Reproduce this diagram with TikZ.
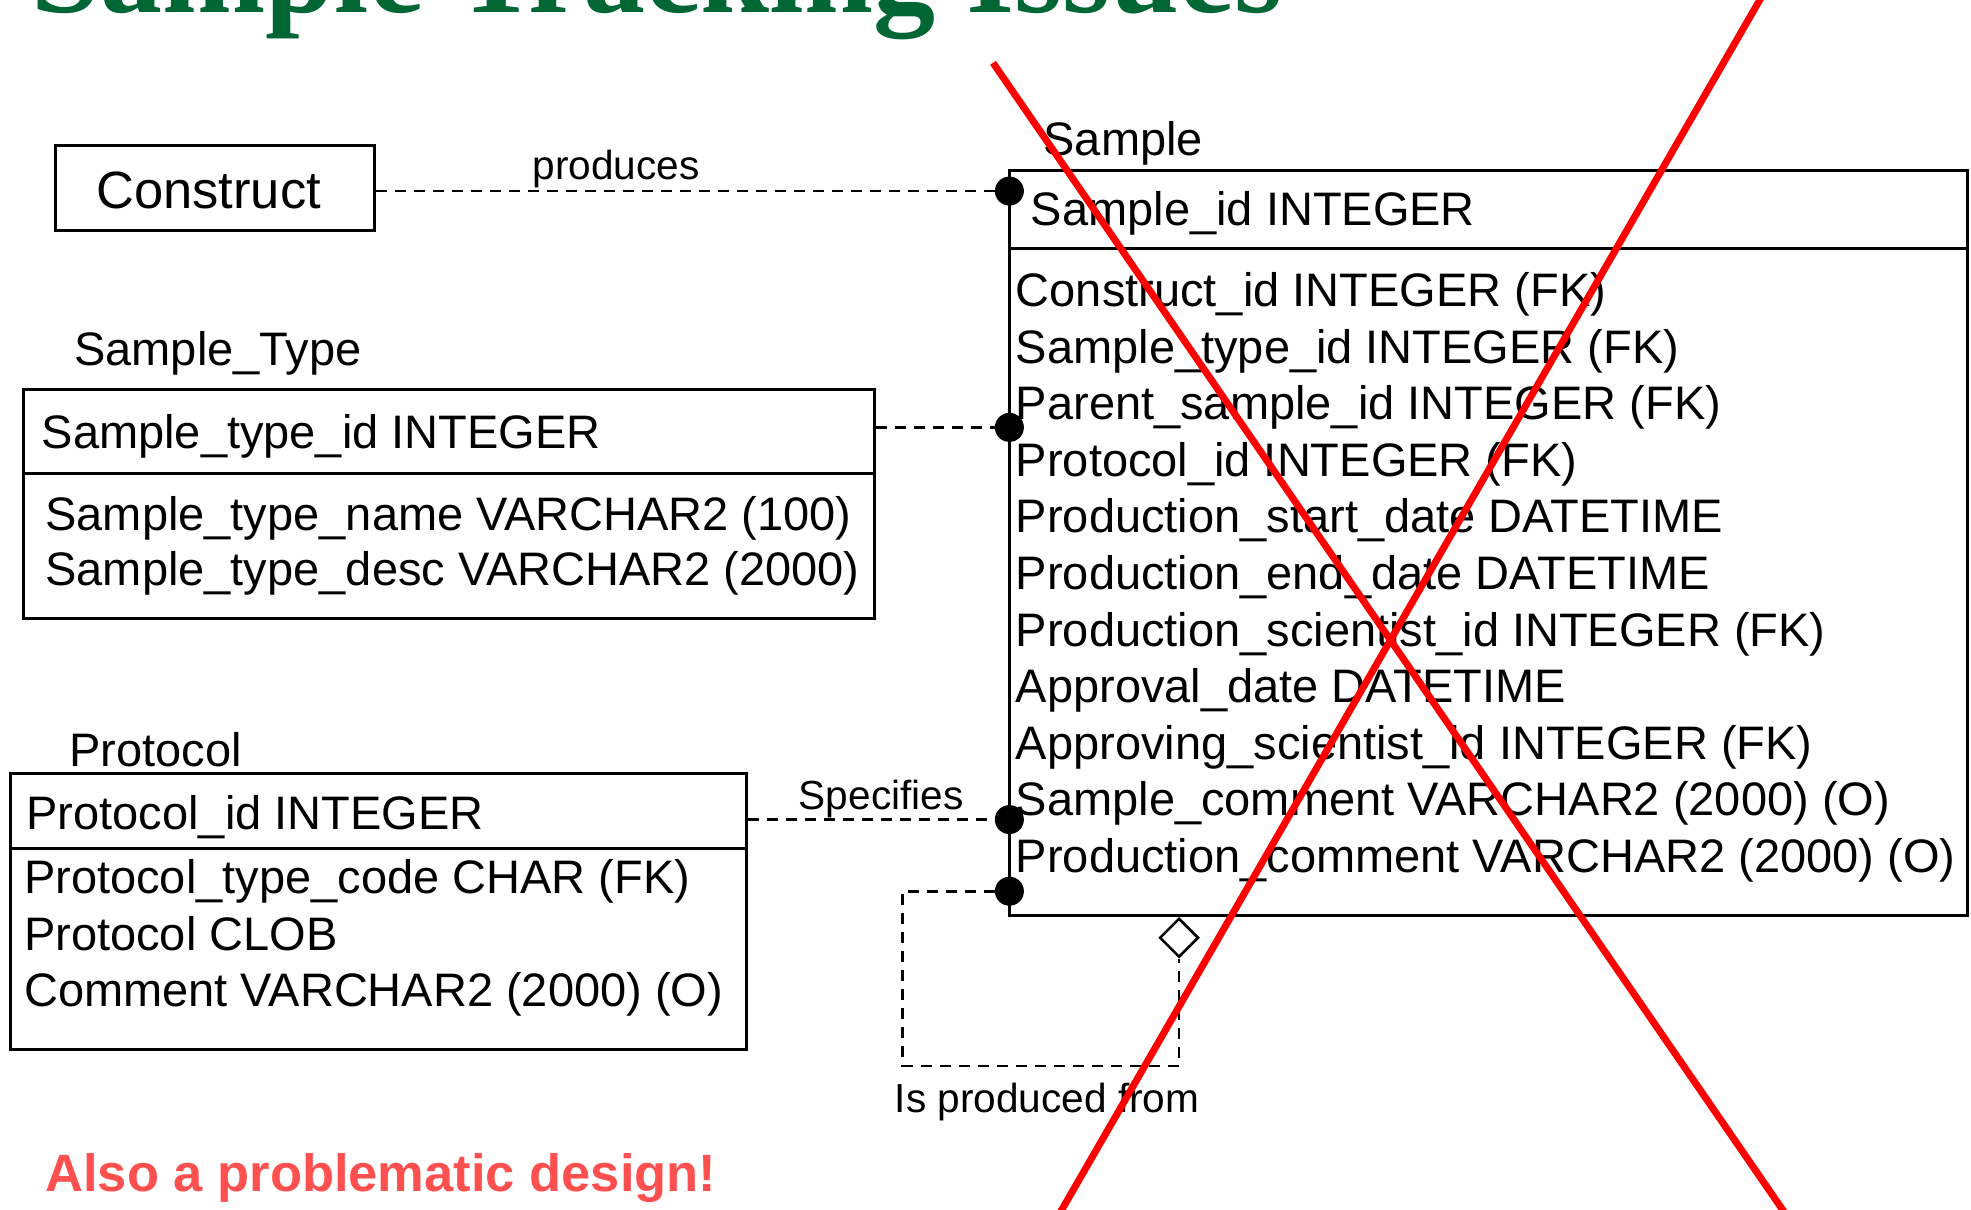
\documentclass[tikz,border=0pt]{standalone}
\usepackage{fontspec}
\setmainfont{Liberation Sans}
\newfontfamily\titlefont{Liberation Serif}
\usetikzlibrary{shapes.geometric,fit}
\definecolor{titlegreen}{RGB}{0,102,51}
\definecolor{notered}{RGB}{255,80,80}
\begin{document}
\begin{tikzpicture}[x=1.257pt,y=-1.257pt,
  ent/.style={draw, line width=3pt, inner sep=0pt},
  divider/.style={line width=3pt},
  conn/.style={line width=2.7pt, dash pattern=on 11pt off 8pt},
  dot/.style={circle, fill, inner sep=0pt, minimum size=29pt},
  attr/.style={anchor=base west, inner sep=0pt, font=\fontsize{47}{50}\selectfont},
  lbl/.style={anchor=base, inner sep=0pt, font=\fontsize{40.6}{44}\selectfont},
  xline/.style={draw=red, line width=7pt},
  relbox/.style={diamond, draw, line width=2.6pt, fill=white, inner sep=0pt, minimum width=39pt, minimum height=39pt}
]
\useasboundingbox (0,0) rectangle (1568,962);
\clip (0,0) rectangle (1568,962);

% title (cut at the top)
\node[anchor=base west, inner sep=0pt, text=titlegreen,
      font=\titlefont\bfseries\fontsize{124}{130}\selectfont] (title) at (25,10) {Sample Tracking Issues};

% Construct
\node[ent, fit={(44,116) (298,183)}] (construct) {};
\node[inner sep=0pt, anchor=base, font=\fontsize{52.5}{56}\selectfont] (constructtxt) at (166,166) {Construct};

% Sample entity
\node[attr] (samplename) at (830,124) {Sample};
\node[ent, fit={(803,136) (1565,728)}] (sample) {};
\draw[divider] (803,198) -- (1565,198);
\node[attr] (spk) at (820,179) {Sample\_id INTEGER};
\node[attr] (sa1) at (808,244) {Construct\_id INTEGER (FK)};
\node[attr] (sa2) at (808,289) {Sample\_type\_id INTEGER (FK)};
\node[attr] (sa3) at (808,334) {Parent\_sample\_id INTEGER (FK)};
\node[attr] (sa4) at (808,379) {Protocol\_id INTEGER (FK)};
\node[attr] (sa5) at (808,424) {Production\_start\_date DATETIME};
\node[attr] (sa6) at (808,469) {Production\_end\_date DATETIME};
\node[attr] (sa7) at (808,514) {Production\_scientist\_id INTEGER (FK)};
\node[attr] (sa8) at (808,559) {Approval\_date DATETIME};
\node[attr] (sa9) at (808,604) {Approving\_scientist\_id INTEGER (FK)};
\node[attr] (sa10) at (808,649) {Sample\_comment VARCHAR2 (2000) (O)};
\node[attr] (sa11) at (808,694) {Production\_comment VARCHAR2 (2000) (O)};

% Sample_Type entity
\node[attr] (stname) at (59,291) {Sample\_Type};
\node[ent, fit={(19,310) (696,492)}] (stype) {};
\draw[divider] (19,377) -- (696,377);
\node[attr] (stpk) at (33,357) {Sample\_type\_id INTEGER};
\node[attr] (st1) at (36,422) {Sample\_type\_name VARCHAR2 (100)};
\node[attr] (st2) at (36,466) {Sample\_type\_desc VARCHAR2 (2000)};

% Protocol entity
\node[attr] (prname) at (55,610) {Protocol};
\node[ent, fit={(8,615) (594,835)}] (proto) {};
\draw[divider] (8,675) -- (594,675);
\node[attr] (prpk) at (21,660) {Protocol\_id INTEGER};
\node[attr] (pr1) at (19,711) {Protocol\_type\_code CHAR (FK)};
\node[attr] (pr2) at (19,756) {Protocol CLOB};
\node[attr] (pr3) at (19,801) {Comment VARCHAR2 (2000) (O)};

% relationship dots
\node[dot] (d1) at (803,152) {};
\node[dot] (d2) at (803,340) {};
\node[dot] (d3) at (803,652) {};
\node[dot] (d4) at (803,709) {};
\node[relbox] (dia) at (938,746) {};
\coordinate (loopc) at (718,848);

% connectors
\draw[conn] (construct.east |- d1) -- (d1);
\draw[conn] (stype.east |- d2) -- (d2);
\draw[conn] (proto.east |- d3) -- (d3);
\draw[conn] (d4) -| (loopc) -| (dia.south);

% relationship labels
\node[lbl] (lprod) at (490,143) {produces};
\node[lbl] (lspec) at (701,644) {Specifies};
\node[lbl] (lfrom) at (833,885) {Is produced from};

% note
\node[anchor=base west, inner sep=0pt, text=notered,
      font=\bfseries\fontsize{52.5}{56}\selectfont] (note) at (36,948) {Also a problematic design!};

% red cross
\draw[xline] (790,50) -- (1444,1000);
\draw[xline] (1405.7,-10) -- (823,1000);
\end{tikzpicture}
\end{document}
